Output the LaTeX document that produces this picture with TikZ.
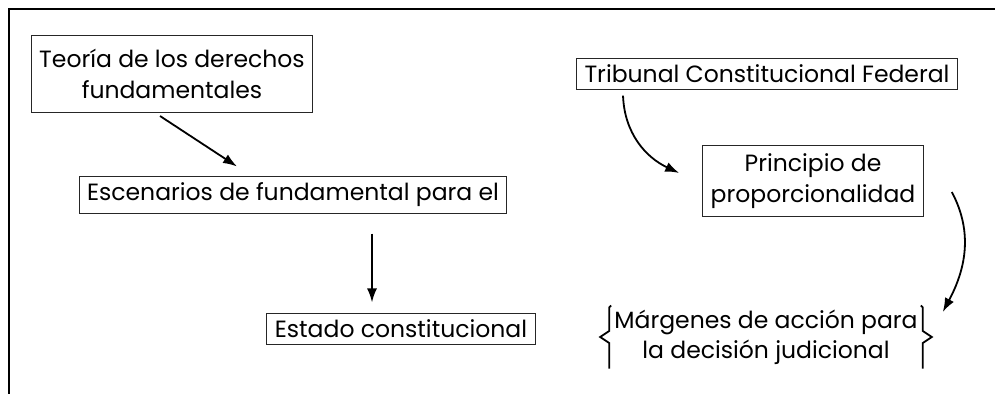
\documentclass[tikz,border=0pt]{standalone}
\usepackage{fontspec}
\setmainfont{Poppins}
\usetikzlibrary{arrows.meta}
\tikzstyle{concepto} = [rectangle, draw=black!85, line width=1pt, inner xsep=8pt, inner ysep=6pt, text centered, align=center, font=\fontsize{23.5}{31}\selectfont]
\tikzstyle{plano} = [rectangle, inner xsep=5pt, inner ysep=4pt, text centered, align=center, font=\fontsize{23.5}{30}\selectfont]
\tikzstyle{arrow} = [line width=1.8pt,-{Latex[length=14pt,width=10pt]}]
\tikzstyle{llave} = [line width=1.8pt]

\begin{document}
\begin{tikzpicture}[x=1pt,y=1pt]
\useasboundingbox (0,0) rectangle (995,-394);

% marco
\draw [line width=2.5pt] (8,-9) -- (995,-9);
\draw [line width=1.6pt] (9,-9) -- (9,-394);

\node (teoria) [concepto, minimum height=77pt] at (172,-74) {Teoría de los derechos\\fundamentales};
\node (escenarios) [concepto, below of=teoria, node distance=121pt, xshift=121pt] {Escenarios de fundamental para el};
\node (estado) [concepto, below of=escenarios, node distance=134pt, xshift=108pt] {Estado constitucional};
\node (tribunal) [concepto, right of=teoria, node distance=595pt] {Tribunal Constitucional Federal};
\node (principio) [concepto, minimum height=71pt, below of=tribunal, node distance=107pt, xshift=46pt] {Principio de\\proporcionalidad};
\node (margenes) [plano, below of=principio, node distance=156pt, xshift=-47pt] {Márgenes de acción para\\la decisión judicional};

% llaves
\draw [llave] ([xshift=2pt]margenes.north west) -- ([yshift=-2pt]margenes.north west) -- ([yshift=6pt]margenes.west) -- ([xshift=-9pt]margenes.west) -- ([yshift=-6pt]margenes.west) -- (margenes.south west);
\draw [llave] ([xshift=-2pt]margenes.north east) -- ([yshift=-2pt]margenes.north east) -- ([yshift=6pt]margenes.east) -- ([xshift=9pt]margenes.east) -- ([yshift=-6pt]margenes.east) -- (margenes.south east);

\draw [arrow] ([xshift=-12pt,yshift=-3pt]teoria.south) -- ([xshift=-56pt,yshift=10pt]escenarios.north);
\draw [arrow] ([xshift=79pt,yshift=-20pt]escenarios.south) -- ([xshift=-29pt,yshift=11pt]estado.north);
\draw [arrow] ([xshift=47pt,yshift=-6pt]tribunal.south west) to[out=-88,in=155] ([xshift=-23pt,yshift=8pt]principio.west);
\draw [arrow] ([xshift=28pt,yshift=-11pt]principio.east) to[out=-62,in=62] ([xshift=20pt,yshift=25pt]margenes.east);

\end{tikzpicture}
\end{document}
